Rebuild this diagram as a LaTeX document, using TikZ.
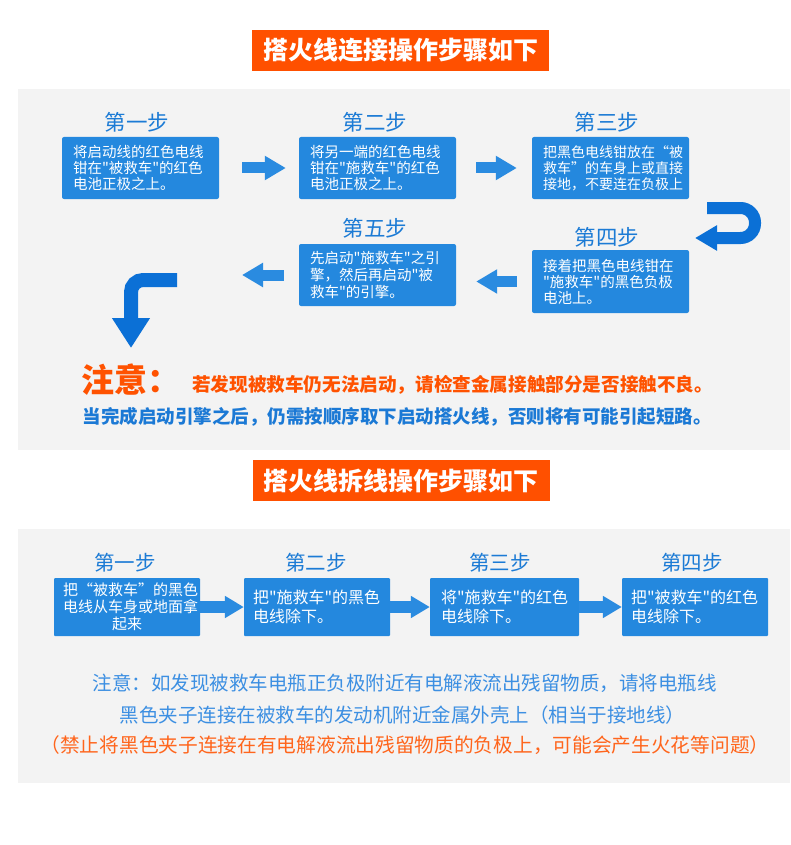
\documentclass[tikz,border=0pt]{standalone}
\usepackage{fontspec}
\usepackage{tikz}
\usetikzlibrary{positioning,arrows.meta}
\newfontfamily\cjk{Noto Sans CJK SC}
\definecolor{bannerorange}{HTML}{FF5000}
\definecolor{panelgray}{HTML}{F3F3F3}
\definecolor{boxblue}{HTML}{2488DE}
\definecolor{titleblue}{HTML}{1C7BD5}
\definecolor{arrowblue}{HTML}{2A8BE0}
\definecolor{turnblue}{HTML}{0B70D6}
\definecolor{warnorange}{HTML}{FF5200}
\definecolor{warnblue}{HTML}{1B79D5}
\definecolor{hintblue}{HTML}{3C8FE2}
\definecolor{hintorange}{HTML}{FF651C}

\begin{document}
\begin{tikzpicture}[x=1pt,y=1pt,
    banner/.style={fill=bannerorange, text=white, minimum width=297pt, minimum height=41pt, inner sep=0pt, font=\cjk\bfseries\fontsize{25}{25}\selectfont},
    steptitle/.style={text=titleblue, inner sep=0pt, font=\cjk\fontsize{21.5}{21.5}\selectfont},
    stepbox/.style={fill=boxblue, text=white, rounded corners=2pt, text width=135pt, inner xsep=11pt, inner ysep=0pt, minimum height=62pt, align=left, font=\cjk\fontsize{14.5}{16}\selectfont},
    smallbox/.style={fill=boxblue, text=white, rounded corners=1pt, text width=128pt, inner xsep=9pt, inner ysep=0pt, minimum height=58pt, align=left, font=\cjk\fontsize{16}{19}\selectfont},
    flow/.style={draw=arrowblue, line width=11pt, -{Triangle[length=21pt,width=23pt]}},
    flowtwo/.style={draw=arrowblue, line width=12pt, -{Triangle[length=19pt,width=21pt]}},
    turn/.style={draw=turnblue, line width=12pt, -{Triangle[length=22pt,width=24pt]}},
    note/.style={inner sep=0pt, font=\cjk\fontsize{19.5}{19.5}\selectfont}
]
    \useasboundingbox (0,0) rectangle (790,-845);

    % Panels
    \fill[panelgray] (18,-89) rectangle (790,-450);
    \fill[panelgray] (18,-529) rectangle (790,-783);

    % Connecting the cables
    \node[banner] (top) at (400.5,-50.5) {搭火线连接操作步骤如下};

    \node[steptitle] (s1) at (137,-122) {第一步};
    \node[steptitle] (s2) at (375,-122) {第二步};
    \node[steptitle] (s3) at (607,-122) {第三步};
    \node[steptitle] (s4) at (607,-237) {第四步};
    \node[steptitle] (s5) at (375,-228) {第五步};

    \node[stepbox] (b1) at (140.5,-168) {将启动线的红色电线\\钳在"被救车"的红色\\电池正极之上。};
    \node[stepbox] (b2) at (377.5,-168) {将另一端的红色电线\\钳在"施救车"的红色\\电池正极之上。};
    \node[stepbox, font=\cjk\fontsize{14}{16}\selectfont] (b3) at (610.5,-168) {把黑色电线钳放在“被\\救车”的车身上或直接\\接地，不要连在负极上};
    \node[stepbox, minimum height=63pt] (b4) at (610.5,-281.5) {接着把黑色电线钳在\\"施救车"的黑色负极\\电池上。};
    \node[stepbox, font=\cjk\fontsize{14.5}{17}\selectfont] (b5) at (377.5,-275) {先启动"施救车"之引\\擎，然后再启动"被\\救车"的引擎。};

    \coordinate (uin) at (707,-208);
    \coordinate (uout) at (695,-238);
    \coordinate (back) at (242,-275);
    \coordinate (lin) at (177,-280);
    \coordinate (down) at (131,-348);

    \draw[flow, shorten <=23pt, shorten >=13pt] (b1) -- (b2);
    \draw[flow, shorten <=20pt, shorten >=15pt] (b2) -- (b3);
    \draw[turn, rounded corners=14.5pt] (uin) -- ++(48,0) -- ++(0,-30) -- (uout);
    \draw[flow, shorten <=15pt, shorten >=20pt] (b4.west) -- (b4.west -| b5.east);
    \draw[flow, shorten <=15pt] (b5.west) -- (back);
    \draw[turn, line width=14pt, rounded corners=12pt, -{Triangle[length=30pt,width=36pt]}] (lin) -| (down);

    \node[note, anchor=west, text=warnorange, font=\cjk\bfseries\fontsize{33}{33}\selectfont] (w0) at (81,-380) {注意：};
    \node[note, anchor=west, text=warnorange, font=\cjk\bfseries\fontsize{18.6}{18.6}\selectfont] (w1) at (192,-385) {若发现被救车仍无法启动，请检查金属接触部分是否接触不良。};
    \node[note, text=warnblue, font=\cjk\bfseries\fontsize{18.5}{18.5}\selectfont] (w2) at (397,-417) {当完成启动引擎之后，仍需按顺序取下启动搭火线，否则将有可能引起短路。};

    % Removing the cables
    \node[banner] (bottom) at (401,-480.5) {搭火线拆线操作步骤如下};

    \node[steptitle, font=\cjk\fontsize{20.5}{20.5}\selectfont] (t1) at (125,-563) {第一步};
    \node[steptitle, font=\cjk\fontsize{20.5}{20.5}\selectfont] (t2) at (316,-563) {第二步};
    \node[steptitle, font=\cjk\fontsize{20.5}{20.5}\selectfont] (t3) at (500,-563) {第三步};
    \node[steptitle, font=\cjk\fontsize{20.5}{20.5}\selectfont] (t4) at (692,-563) {第四步};

    \node[smallbox, align=center, font=\cjk\fontsize{15}{17}\selectfont] (c1) at (127,-607) {把“被救车”的黑色\\电线从车身或地面拿\\起来};
    \node[smallbox] (c2) at (317,-607) {把"施救车"的黑色\\电线除下。};
    \node[smallbox, text width=127pt, inner xsep=11pt] (c3) at (504.5,-607) {将"施救车"的红色\\电线除下。};
    \node[smallbox] (c4) at (695,-607) {把"被救车"的红色\\电线除下。};

    \draw[flowtwo] (c1) -- (c2);
    \draw[flowtwo] (c2) -- (c3);
    \draw[flowtwo] (c3) -- (c4);

    \node[note, text=hintblue] (h1) at (404.5,-683) {注意：如发现被救车电瓶正负极附近有电解液流出残留物质，请将电瓶线};
    \node[note, text=hintblue] (h2) at (402.5,-715) {黑色夹子连接在被救车的发动机附近金属外壳上（相当于接地线）};
    \node[note, text=hintorange, font=\cjk\fontsize{19.7}{19.7}\selectfont] (h3) at (405,-745) {（禁止将黑色夹子连接在有电解液流出残留物质的负极上，可能会产生火花等问题）};
\end{tikzpicture}
\end{document}
